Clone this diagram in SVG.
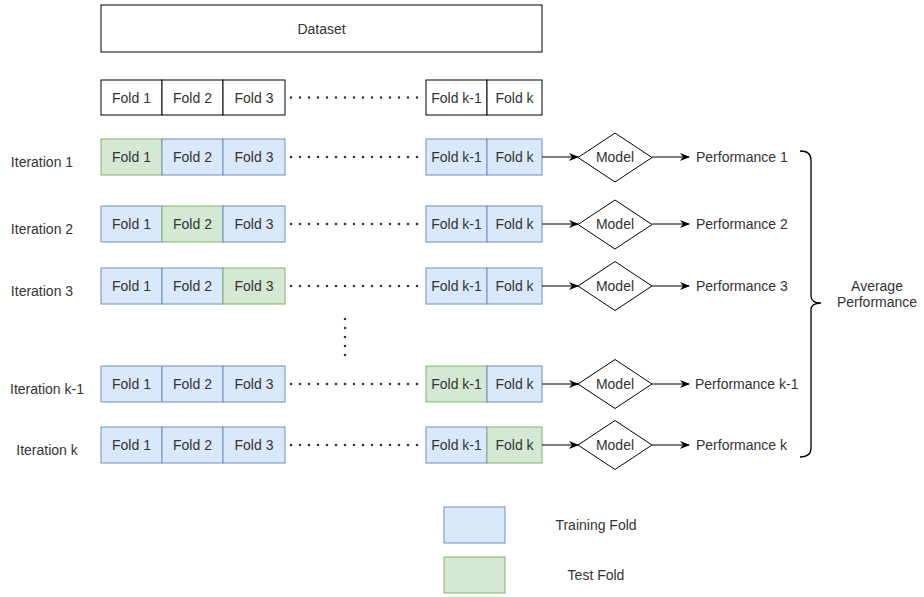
<svg xmlns="http://www.w3.org/2000/svg" width="924" height="597" viewBox="0 0 924 597">
<defs>
<style>
text{font-family:"Liberation Sans",Arial,sans-serif;font-size:14px;fill:#333;dominant-baseline:central}
.c{text-anchor:middle}
.w{fill:#fff;stroke:#000;stroke-width:1}
.b{fill:#dae8fc;stroke:#6c8ebf;stroke-width:1}
.g{fill:#d5e8d4;stroke:#82b366;stroke-width:1}
.dot{stroke:#333;stroke-width:2.6;stroke-linecap:round;stroke-dasharray:0 9;fill:none}
.ar{stroke:#000;stroke-width:1.2;fill:none;marker-end:url(#ah)}
.dm{fill:#fff;stroke:#000;stroke-width:1}
</style>
<marker id="ah" viewBox="0 0 10 10" refX="9" refY="5" markerWidth="10" markerHeight="10" markerUnits="userSpaceOnUse" orient="auto">
<path d="M0,1 L10,5 L0,9 L3,5 z" fill="#000"/>
</marker>
</defs>
<rect width="924" height="597" fill="#fff"/>

<g id="dataset"><rect class="w" x="101" y="5" width="441" height="47"/><text class="c" x="321.5" y="28.5">Dataset</text></g>

<g id="folds">
<rect class="w" x="101" y="80" width="61" height="35"/><text class="c" x="131.5" y="97.5">Fold 1</text>
<rect class="w" x="162" y="80" width="61" height="35"/><text class="c" x="192.5" y="97.5">Fold 2</text>
<rect class="w" x="223" y="80" width="62" height="35"/><text class="c" x="254" y="97.5">Fold 3</text>
<rect class="w" x="426" y="80" width="61" height="35"/><text class="c" x="456.5" y="97.5">Fold k-1</text>
<rect class="w" x="487" y="80" width="55" height="35"/><text class="c" x="514.5" y="97.5">Fold k</text>
</g>

<g id="iter1">
<text class="c" x="42" y="162">Iteration 1</text>
<rect class="g" x="101" y="139" width="61" height="36"/><text class="c" x="131.5" y="157">Fold 1</text>
<rect class="b" x="162" y="139" width="61" height="36"/><text class="c" x="192.5" y="157">Fold 2</text>
<rect class="b" x="223" y="139" width="62" height="36"/><text class="c" x="254" y="157">Fold 3</text>
<rect class="b" x="426" y="139" width="61" height="36"/><text class="c" x="456.5" y="157">Fold k-1</text>
<rect class="b" x="487" y="139" width="55" height="36"/><text class="c" x="514.5" y="157">Fold k</text>
</g>
<g id="iter2">
<text class="c" x="42" y="229">Iteration 2</text>
<rect class="b" x="101" y="206" width="61" height="36"/><text class="c" x="131.5" y="224">Fold 1</text>
<rect class="g" x="162" y="206" width="61" height="36"/><text class="c" x="192.5" y="224">Fold 2</text>
<rect class="b" x="223" y="206" width="62" height="36"/><text class="c" x="254" y="224">Fold 3</text>
<rect class="b" x="426" y="206" width="61" height="36"/><text class="c" x="456.5" y="224">Fold k-1</text>
<rect class="b" x="487" y="206" width="55" height="36"/><text class="c" x="514.5" y="224">Fold k</text>
</g>
<g id="iter3">
<text class="c" x="42" y="291">Iteration 3</text>
<rect class="b" x="101" y="268" width="61" height="36"/><text class="c" x="131.5" y="286">Fold 1</text>
<rect class="b" x="162" y="268" width="61" height="36"/><text class="c" x="192.5" y="286">Fold 2</text>
<rect class="g" x="223" y="268" width="62" height="36"/><text class="c" x="254" y="286">Fold 3</text>
<rect class="b" x="426" y="268" width="61" height="36"/><text class="c" x="456.5" y="286">Fold k-1</text>
<rect class="b" x="487" y="268" width="55" height="36"/><text class="c" x="514.5" y="286">Fold k</text>
</g>
<g id="iterk1">
<text class="c" x="47" y="389">Iteration k-1</text>
<rect class="b" x="101" y="366" width="61" height="36"/><text class="c" x="131.5" y="384">Fold 1</text>
<rect class="b" x="162" y="366" width="61" height="36"/><text class="c" x="192.5" y="384">Fold 2</text>
<rect class="b" x="223" y="366" width="62" height="36"/><text class="c" x="254" y="384">Fold 3</text>
<rect class="g" x="426" y="366" width="61" height="36"/><text class="c" x="456.5" y="384">Fold k-1</text>
<rect class="b" x="487" y="366" width="55" height="36"/><text class="c" x="514.5" y="384">Fold k</text>
</g>
<g id="iterk">
<text class="c" x="47" y="450">Iteration k</text>
<rect class="b" x="101" y="427" width="61" height="36"/><text class="c" x="131.5" y="445">Fold 1</text>
<rect class="b" x="162" y="427" width="61" height="36"/><text class="c" x="192.5" y="445">Fold 2</text>
<rect class="b" x="223" y="427" width="62" height="36"/><text class="c" x="254" y="445">Fold 3</text>
<rect class="b" x="426" y="427" width="61" height="36"/><text class="c" x="456.5" y="445">Fold k-1</text>
<rect class="g" x="487" y="427" width="55" height="36"/><text class="c" x="514.5" y="445">Fold k</text>
</g>

<g id="models">
<path class="dm" d="M578,157.5 L615,133 L652,157.5 L615,182 Z"/><text class="c" x="615" y="157">Model</text>
<path class="dm" d="M578,224.5 L615,200 L652,224.5 L615,249 Z"/><text class="c" x="615" y="224">Model</text>
<path class="dm" d="M578,286 L615,261.5 L652,286 L615,310.5 Z"/><text class="c" x="615" y="286">Model</text>
<path class="dm" d="M578,384 L615,359.5 L652,384 L615,408.5 Z"/><text class="c" x="615" y="384">Model</text>
<path class="dm" d="M578,445 L615,420.5 L652,445 L615,469.5 Z"/><text class="c" x="615" y="445">Model</text>
</g>

<g id="performances">
<text x="696" y="157">Performance 1</text>
<text x="696" y="224">Performance 2</text>
<text x="696" y="286">Performance 3</text>
<text x="695" y="384">Performance k-1</text>
<text x="696" y="445">Performance k</text>
</g>

<g id="average"><text class="c" x="877" y="286">Average</text><text class="c" x="877" y="302">Performance</text></g>

<g id="legend">
<rect class="b" x="444" y="507" width="61" height="36"/><text class="c" x="596" y="525">Training Fold</text>
<rect class="g" x="444" y="557" width="61" height="36"/><text class="c" x="596" y="575">Test Fold</text>
</g>

<g id="connectors">
<line class="dot" x1="291" y1="97.5" x2="426" y2="97.5"/>
<line class="dot" x1="291" y1="157" x2="426" y2="157"/>
<line class="dot" x1="291" y1="224" x2="426" y2="224"/>
<line class="dot" x1="291" y1="286" x2="426" y2="286"/>
<line class="dot" x1="291" y1="384" x2="426" y2="384"/>
<line class="dot" x1="291" y1="445" x2="426" y2="445"/>
<line class="dot" x1="345" y1="319" x2="345" y2="360"/>
<line class="ar" x1="542" y1="157" x2="578" y2="157"/>
<line class="ar" x1="542" y1="224" x2="578" y2="224"/>
<line class="ar" x1="542" y1="286" x2="578" y2="286"/>
<line class="ar" x1="542" y1="384" x2="578" y2="384"/>
<line class="ar" x1="542" y1="445" x2="578" y2="445"/>
<line class="ar" x1="652" y1="157" x2="689" y2="157"/>
<line class="ar" x1="652" y1="224" x2="689" y2="224"/>
<line class="ar" x1="652" y1="286" x2="689" y2="286"/>
<line class="ar" x1="652" y1="384" x2="689" y2="384"/>
<line class="ar" x1="652" y1="445" x2="689" y2="445"/>
<path d="M800,151 Q811,151 811,160 L811,296 Q811,303 821,303 Q811,303 811,310 L811,448 Q811,457 800,457" fill="none" stroke="#000" stroke-width="1.3"/>
</g>
</svg>
